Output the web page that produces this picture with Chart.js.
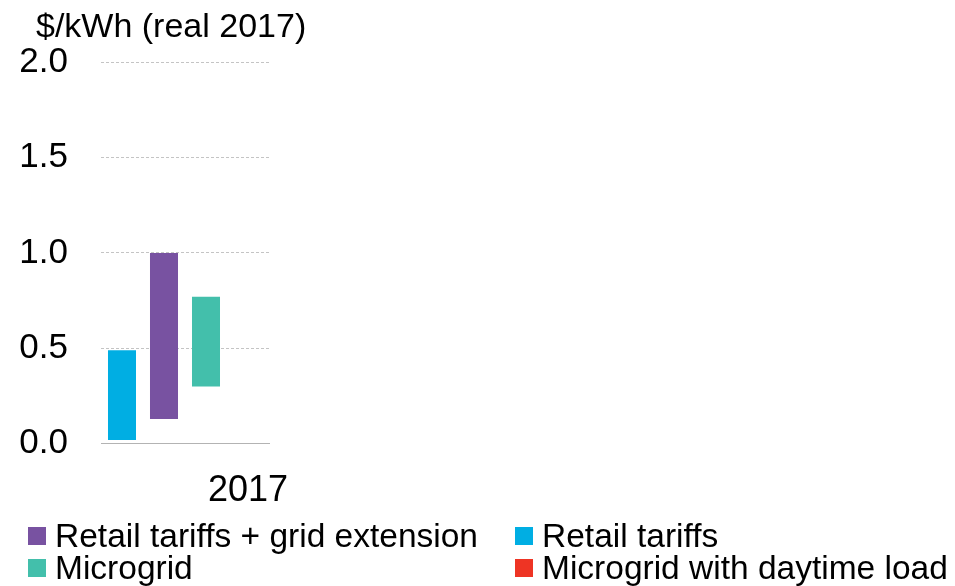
<!DOCTYPE html>
<html>
<head>
<meta charset="utf-8">
<script src="https://cdn.jsdelivr.net/npm/chart.js@4.4.0/dist/chart.umd.min.js"></script>
<style>
  html, body { margin: 0; padding: 0; background: #fff; }
  #wrap { position: relative; width: 955px; height: 586px; overflow: hidden; font-family: "Liberation Sans", Arial, sans-serif; }
  #c { position: absolute; left: 0; top: 0; }
  #ytitle { position: absolute; left: 36px; top: 5px; font-size: 34px; line-height: 40px; color: #000; white-space: nowrap; }
  #legend { position: absolute; left: 28px; top: 520px; width: 927px; display: grid; grid-template-columns: 487px auto; grid-auto-rows: 32px; font-size: 33.5px; line-height: 32px; color: #000; }
  .item { display: flex; align-items: center; white-space: nowrap; }
  .box { width: 18px; height: 18px; margin-right: 9px; flex: none; }
</style>
</head>
<body>
<div id="wrap">
  <canvas id="c" width="955" height="586"></canvas>
  <div id="ytitle"></div>
  <div id="legend"></div>
</div>
<script>
// ---- data ----
const categories = ['2017'];
const seriesNames = ['Retail tariffs', 'Retail tariffs + grid extension', 'Microgrid', 'Microgrid with daytime load'];
const retailTariffs = [[0.02, 0.49]];
const retailPlusGrid = [[0.13, 1.00]];
const microgrid = [[0.30, 0.77]];
const microgridDaytime = [null];
const yTickValues = [0, 0.5, 1.0, 1.5, 2.0];
const yTitle = '$/kWh (real 2017)';
const legendOrder = [1, 0, 2, 3];
const seriesColors = ['#00AEE3', '#7852A1', '#43BFAB', '#EE3424'];

const seriesData = [retailTariffs, retailPlusGrid, microgrid, microgridDaytime];

Chart.defaults.font.family = '"Liberation Sans", Arial, sans-serif';
Chart.defaults.color = '#000';

document.getElementById('ytitle').textContent = yTitle;

const chart = new Chart(document.getElementById('c'), {
  type: 'bar',
  data: {
    labels: categories,
    datasets: seriesNames.map((name, i) => ({
      label: name,
      data: seriesData[i],
      backgroundColor: seriesColors[i],
      borderWidth: 0,
      categoryPercentage: 1.0,
      barPercentage: 0.667
    }))
  },
  options: {
    responsive: false,
    animation: false,
    devicePixelRatio: 1,
    layout: { padding: { left: 17, right: 686, top: 62, bottom: 47 } },
    plugins: {
      legend: { display: false },
      tooltip: { enabled: false },
      title: { display: false }
    },
    scales: {
      x: {
        grid: { display: false, drawTicks: false },
        border: { display: true, color: '#b3b3b3', width: 1 },
        ticks: { font: { size: 36 }, padding: 26, labelOffset: 63, maxRotation: 0, color: '#000' }
      },
      y: {
        min: 0,
        max: 2,
        afterBuildTicks: (s) => { s.ticks = yTickValues.map(v => ({ value: v })); },
        afterFit: (s) => { s.width = 84; },
        grid: { color: '#c4c4c4', lineWidth: 1, drawTicks: false },
        border: { display: false, dash: [3, 2] },
        ticks: { font: { size: 35 }, padding: 33, color: '#000', callback: (v) => Number(v).toFixed(1) }
      }
    }
  }
});

// HTML legend (two aligned columns) built from the chart's datasets
const legendEl = document.getElementById('legend');
legendOrder.forEach((idx) => {
  const ds = chart.data.datasets[idx];
  const item = document.createElement('div');
  item.className = 'item';
  const box = document.createElement('span');
  box.className = 'box';
  box.style.background = ds.backgroundColor;
  const txt = document.createElement('span');
  txt.textContent = ds.label;
  item.appendChild(box);
  item.appendChild(txt);
  legendEl.appendChild(item);
});
</script>
</body>
</html>
